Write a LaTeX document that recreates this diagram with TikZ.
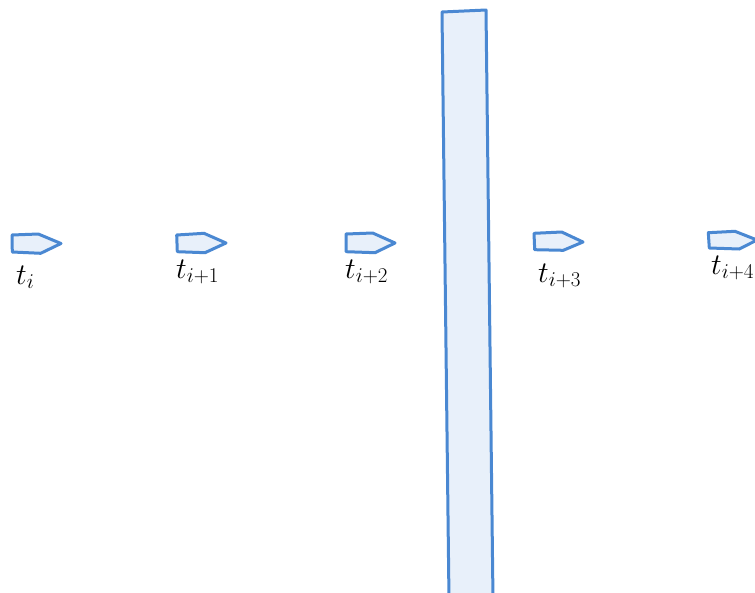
\documentclass[tikz,border=0pt]{standalone}
\usepackage{fix-cm}
\usepackage{amsmath}
\definecolor{edgeblue}{HTML}{4A88D2}
\definecolor{fillblue}{HTML}{E8F0FA}
\tikzset{
  shp/.style={draw=edgeblue, fill=fillblue, line width=3pt, line join=round},
  lbl/.style={anchor=base west, inner sep=0pt, font=\fontsize{30}{35}\selectfont}
}
\begin{document}
\begin{tikzpicture}[x=1pt,y=-1pt]
\useasboundingbox (0,0) rectangle (755,592);
\begin{scope}
\clip (0,0) rectangle (755,592);
\draw[shp] (442,12) -- (486,10) -- (493,600) -- (449,600) -- cycle;
\draw[shp] (12,235) -- (38.3,234) -- (61,243.5) -- (40.7,253.3) -- (12.3,252) -- cycle;
\draw[shp] (176.7,235) -- (204,233.3) -- (226,243) -- (205,252.7) -- (177.3,251.7) -- cycle;
\draw[shp] (346,234) -- (372.7,233) -- (395,243) -- (375,252.7) -- (346,251.7) -- cycle;
\draw[shp] (534,233.3) -- (561.7,232) -- (583,242) -- (563.3,250.3) -- (534.7,249.7) -- cycle;
\draw[shp] (708.3,232.7) -- (735,231.3) -- (757,240) -- (739.3,249) -- (709.3,248) -- cycle;
\end{scope}
\node[lbl] (l0) at (16,284) {$t_i$};
\node[lbl] (l1) at (176,278) {$t_{i+1}$};
\node[lbl] (l2) at (345,278) {$t_{i+2}$};
\node[lbl] (l3) at (538,282) {$t_{i+3}$};
\node[lbl] (l4) at (711,274) {$t_{i+4}$};
\end{tikzpicture}
\end{document}
